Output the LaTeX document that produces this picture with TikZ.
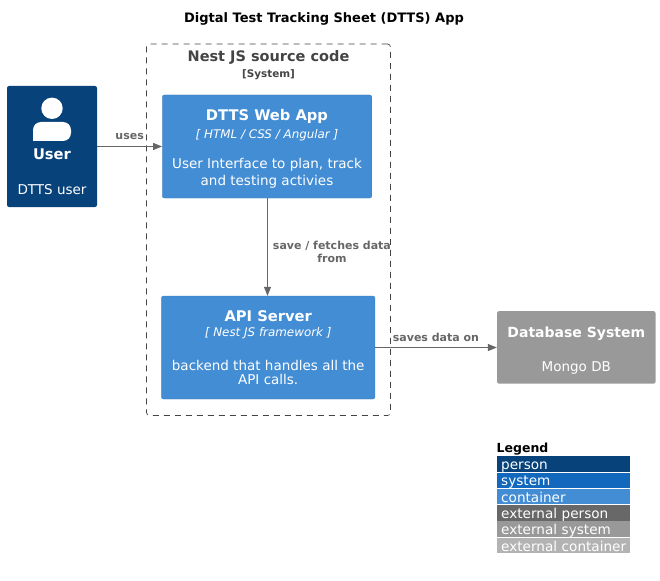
\documentclass[tikz,border=0pt]{standalone}
\usepackage{fontspec}
\setmainfont{DejaVu Sans}
\usetikzlibrary{arrows.meta, positioning, calc}
\definecolor{personblue}{HTML}{08427B}
\definecolor{systemblue}{HTML}{1168BD}
\definecolor{containerblue}{HTML}{438DD5}
\definecolor{extperson}{HTML}{686868}
\definecolor{extsystem}{HTML}{999999}
\definecolor{extcontainer}{HTML}{B3B3B3}
\definecolor{linegray}{HTML}{666666}
\definecolor{boundarygray}{HTML}{444444}
\tikzset{
  box/.style={rounded corners=2pt, text=white, align=center, inner sep=0pt},
  containerbox/.style={box, fill=containerblue, draw=containerblue!85!black, line width=0.3pt},
  link/.style={draw=linegray, line width=0.9pt, -{Triangle[length=9pt, width=7pt]}},
  linklabel/.style={text=linegray, font=\fontsize{11}{13}\selectfont\bfseries, align=center, inner sep=1pt},
  legendrow/.style={text=white, anchor=west, minimum height=15.6pt, text width=125pt, text height=12pt, text depth=1pt, align=left, inner xsep=4pt, inner ysep=0pt, font=\fontsize{13.6}{14}\selectfont}
}
\newcommand{\boxtitle}[1]{{\fontsize{14.7}{17}\selectfont\bfseries #1}}
\newcommand{\boxtech}[1]{{\fontsize{11.9}{13}\selectfont\itshape #1}}
\newcommand{\boxtext}[1]{{\fontsize{13.5}{16}\selectfont #1}}

\begin{document}
\begin{tikzpicture}[x=1pt, y=-1pt]
  \useasboundingbox (0,0) rectangle (660,580);
  \node[font=\fontsize{13}{15}\selectfont\bfseries] (title) at (324,19) {Digtal Test Tracking Sheet (DTTS) App};

  \node[draw=boundarygray, dash pattern=on 6pt off 5pt, line width=0.7pt, rounded corners=3pt, minimum width=244pt, minimum height=371.5pt, inner sep=0pt] (boundary) at (268.5,229.75) {};
  \node[below=7pt of boundary.north, text=boundarygray, align=center, inner sep=0pt] (boundarylabel) {
    {\fontsize{14.5}{17}\selectfont\bfseries Nest JS source code}\\[3.5pt]
    {\fontsize{10.4}{12}\selectfont\bfseries [System]}
  };

  \node[box, fill=personblue, minimum width=90pt, minimum height=121pt] (user) at (52,146.5) {
    \mbox{}\\[50pt]
    \boxtitle{User}\\[23pt]
    \boxtext{DTTS user}
  };
  \fill[white] ($(user.north)+(0,22.5)$) circle (10.7pt);
  \fill[white, rounded corners=8pt] (33,141) -- (33,122) -- (71,122) -- (71,141) [sharp corners] -- cycle;

  \node[containerbox, minimum width=209.5pt, minimum height=103pt] (webapp) at (267,146.5) {
    \rule{0pt}{15pt}\boxtitle{DTTS Web App}\\[5pt]
    \boxtech{[ HTML / CSS / Angular ]}\\[17pt]
    \boxtext{User Interface to plan, track}\\[2pt]
    \boxtext{and testing activies}
  };
  \node[containerbox, minimum width=213.5pt, minimum height=103pt] (apiserver) at (268.2,347.5) {
    \boxtitle{API Server}\\[3pt]
    \boxtech{[ Nest JS framework ]}\\[21pt]
    \boxtext{backend that handles all the}\\[2pt]
    \boxtext{API calls.}
  };
  \node[box, fill=extsystem, minimum width=158.5pt, minimum height=72.5pt] (database) at (576.3,347.4) {
    \rule{0pt}{17pt}{\fontsize{14}{17}\selectfont\bfseries Database System}\\[20pt]
    \boxtext{Mongo DB}
  };

  \draw[link] (user.east |- 0,146.5) -- node[linklabel, above=5pt] (useslabel) {uses} (webapp.west |- 0,146.5);
  \draw[link] (267.5,0 |- webapp.south) -- node[linklabel, right=4pt, yshift=-4.5pt] (savelabel) {save / fetches data\\from} (267.5,0 |- apiserver.north);
  \draw[link] (apiserver.east |- 0,347.5) -- node[linklabel, above=4pt] (saveslabel) {saves data on} (database.west |- 0,347.5);

  \node[anchor=south west, inner sep=0pt, font=\fontsize{12.5}{14}\selectfont\bfseries] (legendtitle) at (496.5,455) {Legend};
  \coordinate (legendstart) at (497,464);
  \foreach \rowname/\rowcolor [count=\i from 0] in {person/personblue, system/systemblue, container/containerblue, external person/extperson, external system/extsystem, external container/extcontainer} {
    \node[legendrow, fill=\rowcolor] (legend\i) at ($(legendstart)+(0,16.3*\i)$) {\rowname};
  }
\end{tikzpicture}
\end{document}
